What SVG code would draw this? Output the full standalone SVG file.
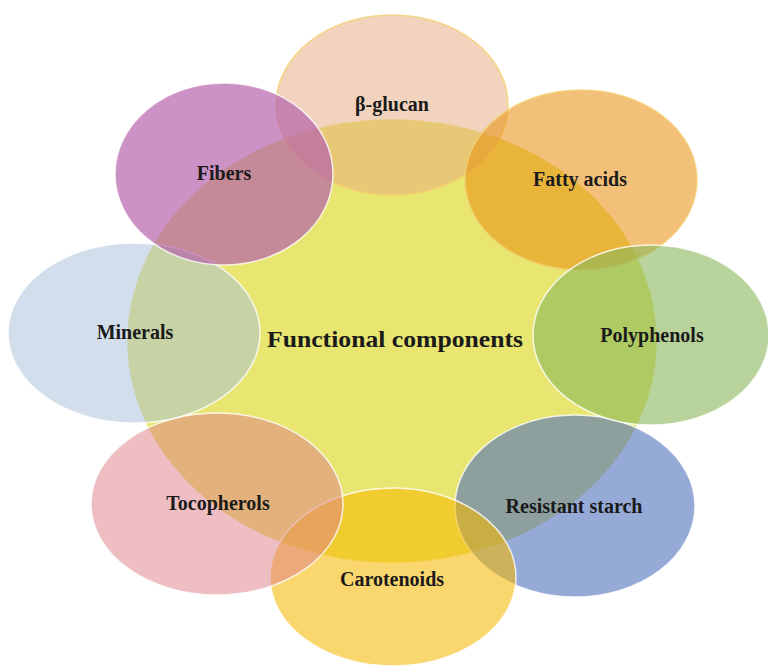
<svg xmlns="http://www.w3.org/2000/svg" width="768" height="667" viewBox="0 0 768 667">
<style>
.p{stroke:#ffffff;stroke-width:1.5;stroke-opacity:0.8}
.t{font-family:"Liberation Serif","Times New Roman",serif;font-weight:bold;font-size:20px;fill:#1a1a1a;text-anchor:middle}
</style>
<rect width="768" height="667" fill="#ffffff"/>
<g id="center">
<ellipse cx="392" cy="341" rx="265" ry="222" fill="#d6d200" fill-opacity="0.56" stroke="#ffffff" stroke-width="1" stroke-opacity="0.5"/>
</g>
<g id="beta-glucan">
<ellipse class="p" cx="392" cy="105" rx="116" ry="90" fill="#e5a97d" fill-opacity="0.5" style="stroke:#f5d070"/>
<text class="t" x="392" y="111">β-glucan</text>
</g>
<g id="fatty-acids">
<ellipse class="p" cx="581" cy="180" rx="116" ry="90" fill="#e89112" fill-opacity="0.57" style="stroke:#f5d070"/>
<text class="t" x="580" y="186">Fatty acids</text>
</g>
<g id="resistant-starch">
<ellipse class="p" cx="575" cy="506" rx="120" ry="91" fill="#5071bc" fill-opacity="0.6"/>
<text class="t" x="574" y="513">Resistant starch</text>
</g>
<g id="polyphenols">
<ellipse class="p" cx="651" cy="335" rx="118" ry="90" fill="#89b75a" fill-opacity="0.6"/>
<text class="t" x="652" y="342">Polyphenols</text>
</g>
<g id="carotenoids">
<ellipse class="p" cx="393" cy="577" rx="123" ry="89" fill="#f6b900" fill-opacity="0.57"/>
<text class="t" x="392" y="586">Carotenoids</text>
</g>
<g id="tocopherols">
<ellipse class="p" cx="217" cy="504" rx="126" ry="91" fill="#dd7d87" fill-opacity="0.5"/>
<text class="t" x="218" y="510">Tocopherols</text>
</g>
<g id="minerals">
<ellipse class="p" cx="134" cy="333" rx="126" ry="90" fill="#a5bdd9" fill-opacity="0.5"/>
<text class="t" x="135" y="339">Minerals</text>
</g>
<g id="fibers">
<ellipse class="p" cx="224" cy="174" rx="109" ry="91" fill="#b45fab" fill-opacity="0.68"/>
<text class="t" x="224" y="180">Fibers</text>
</g>
<g id="center-label">
<text class="t" x="395" y="347" style="font-size:24px" textLength="256" lengthAdjust="spacingAndGlyphs">Functional components</text>
</g>
<g id="connectors"></g>
</svg>
